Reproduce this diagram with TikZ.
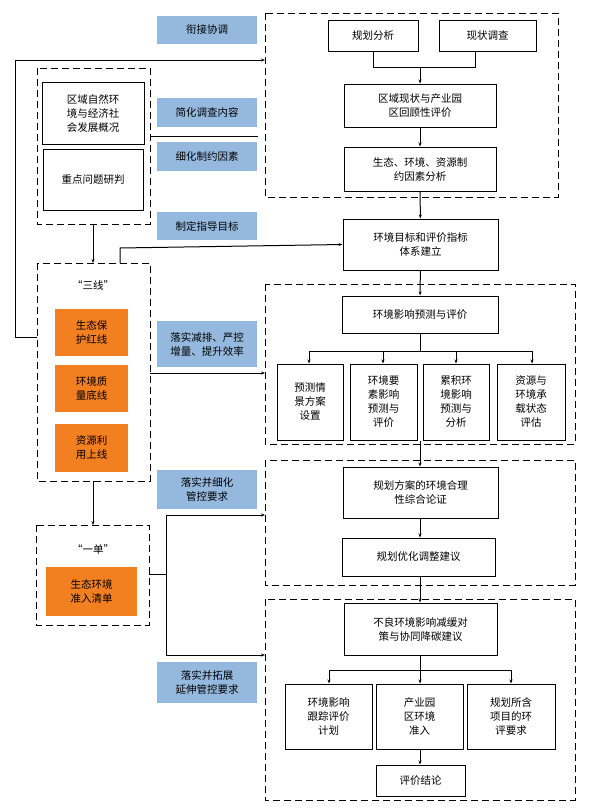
\documentclass[tikz,border=0pt]{standalone}
\usepackage{fontspec}
\setmainfont{Noto Sans CJK SC}
\usetikzlibrary{arrows.meta}
\definecolor{lblue}{RGB}{149,185,222}
\definecolor{orng}{RGB}{242,128,32}
\begin{document}
\begin{tikzpicture}[x=1pt,y=-1pt,
  every node/.style={font=\fontsize{10.5}{14}\selectfont,align=center,inner sep=0pt},
  bx/.style={draw,line width=1pt},
  dbox/.style={draw,line width=1pt,dash pattern=on 7pt off 4pt},
  lbl/.style={fill=lblue},
  org/.style={fill=orng},
  arr/.style={line width=1pt,-{Stealth[length=4pt,width=3pt]}},
  ln/.style={line width=1pt}]
\useasboundingbox (0,0) rectangle (607,809);
% helper macro via rectangles with named nodes
\newcommand\bxn[6]{\node[#1,minimum width=#4-#2,minimum height=#5-#3,anchor=north west] (#6) at (#2,#3) {};}
% dashed groups
\draw[dbox] (265,13) rectangle (558,197);
\draw[dbox] (265,284) rectangle (575,444);
\draw[dbox] (265,460) rectangle (575,585);
\draw[dbox] (265,599) rectangle (575,800);
\draw[dbox] (37,68) rectangle (150,224);
\draw[dbox] (37,263) rectangle (150,481);
\draw[dbox] (36,525) rectangle (149,625);
\coordinate (gA) at (265,60);
\coordinate (gB) at (265,373);
\coordinate (gC) at (265,515);
\coordinate (gD) at (265,655);
% blue labels
\node[lbl,minimum width=100,minimum height=28] (l1) at (207,30) {衔接协调};
\node[lbl,minimum width=100,minimum height=29] (l2) at (207,112.5) {简化调查内容};
\node[lbl,minimum width=100,minimum height=29] (l3) at (207,156.5) {细化制约因素};
\node[lbl,minimum width=100,minimum height=28] (l4) at (207,226) {制定指导目标};
\node[lbl,minimum width=100,minimum height=46] (l5) at (207,344) {落实减排、严控\\增量、提升效率};
\node[lbl,minimum width=100,minimum height=39] (l6) at (207,489.5) {落实并细化\\管控要求};
\node[lbl,minimum width=100,minimum height=41] (l7) at (207,682.5) {落实并拓展\\延伸管控要求};
% left boxes
\node[bx,minimum width=102,minimum height=62] (qy) at (93,113) {区域自然环\\境与经济社\\会发展概况};
\node[bx,minimum width=100,minimum height=61] (zd) at (93,179.5) {重点问题研判};
\node (sx) at (93,285) {“三线”};
\node[org,minimum width=73,minimum height=47] (o1) at (91.5,332.5) {生态保\\护红线};
\node[org,minimum width=73,minimum height=47] (o2) at (91.5,388.5) {环境质\\量底线};
\node[org,minimum width=73,minimum height=48] (o3) at (91.5,448) {资源利\\用上线};
\node (yd) at (93,549) {“一单”};
\node[org,minimum width=91,minimum height=49] (o4) at (91.5,591.5) {生态环境\\准入清单};
\coordinate (g1b) at (93,224); \coordinate (g2t) at (93,263);
\coordinate (g2b) at (93,481); \coordinate (g3t) at (93,525);
% right boxes
\node[bx,minimum width=90,minimum height=31] (gh) at (373,35.5) {规划分析};
\node[bx,minimum width=97,minimum height=31] (xz) at (487.5,35.5) {现状调查};
\node[bx,minimum width=152,minimum height=43] (qx) at (420,105.5) {区域现状与产业园\\区回顾性评价};
\node[bx,minimum width=152,minimum height=44] (st) at (420,169) {生态、环境、资源制\\约因素分析};
\node[bx,minimum width=155,minimum height=51] (hj) at (420.5,244.5) {环境目标和评价指标\\体系建立};
\node[bx,minimum width=156,minimum height=37] (yc) at (420,314.5) {环境影响预测与评价};
\node[bx,minimum width=66,minimum height=76] (b1) at (310,402) {预测情\\景方案\\设置};
\node[bx,minimum width=67,minimum height=76] (b2) at (383.5,402) {环境要\\素影响\\预测与\\评价};
\node[bx,minimum width=66,minimum height=76] (b3) at (456,402) {累积环\\境影响\\预测与\\分析};
\node[bx,minimum width=68,minimum height=76] (b4) at (531,402) {资源与\\环境承\\载状态\\评估};
\node[bx,minimum width=155,minimum height=51] (fa) at (420.5,492.5) {规划方案的环境合理\\性综合论证};
\node[bx,minimum width=153,minimum height=38] (yh) at (418.5,557) {规划优化调整建议};
\node[bx,minimum width=153,minimum height=52] (bl) at (420.5,629) {不良环境影响减缓对\\策与协同降碳建议};
\node[bx,minimum width=87,minimum height=65] (c1) at (328.5,716.5) {环境影响\\跟踪评价\\计划};
\node[bx,minimum width=87,minimum height=65] (c2) at (419.5,716.5) {产业园\\区环境\\准入};
\node[bx,minimum width=88,minimum height=65] (c3) at (511,716.5) {规划所含\\项目的环\\评要求};
\node[bx,minimum width=89,minimum height=31] (jl) at (420.5,780.5) {评价结论};
% connectors right
\draw[ln] (gh.south) -- (373,67) -- (475,67) -- (xz.south -| 475,0);
\draw[arr] (420,67) -- (qx.north);
\draw[arr] (qx) -- (st);
\draw[arr] (st) -- (hj);
\draw[arr] (hj) -- (yc);
\draw[ln] (yc.south) -- (420,351);
\draw[ln] (309,351) -- (532,351);
\foreach \b/\x in {b1/309,b2/383,b3/456,b4/532} \draw[arr] (\x,351) -- (\b.north -| \x,0);
\draw[arr] (b3.south -| 420,0) -- (fa.north -| 420,0);
\draw[arr] (fa.south -| 420,0) -- (yh.north -| 420,0);
\draw[arr] (yh.south -| 420,0) -- (bl.north -| 420,0);
\draw[ln] (bl.south -| 420,0) -- (420,670);
\draw[ln] (329,670) -- (511,670);
\foreach \b/\x in {c1/329,c2/420,c3/511} \draw[arr] (\x,670) -- (\b.north -| \x,0);
\draw[arr] (c2.south -| 420,0) -- (jl.north -| 420,0);
% connectors left
\draw[arr] (g1b) -- (g2t);
\draw[arr] (g2b) -- (g3t);
\draw[arr] (37,337) -- (15,337) -- (15,60) -- (gA);
\draw[ln] (150,136) -- (258,136);
\draw[arr] (120,263) -- (120,248) -- (hj.west);
\draw[arr] (150,373) -- (gB);
\draw[ln] (149,574) -- (166,574);
\draw[arr] (166,574) -- (166,515) -- (gC);
\draw[arr] (166,574) -- (166,655) -- (gD);
\end{tikzpicture}
\end{document}
